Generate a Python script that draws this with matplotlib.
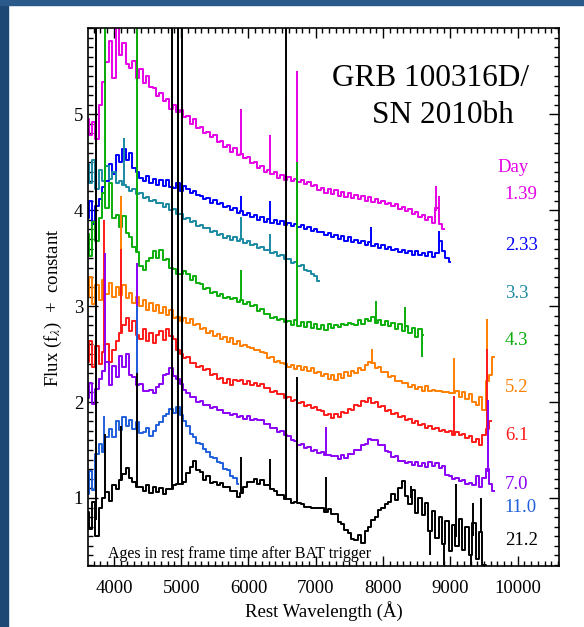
import matplotlib
matplotlib.use("Agg")
import matplotlib.pyplot as plt
import numpy as np
from matplotlib.ticker import MultipleLocator, FormatStrFormatter
from matplotlib.patches import Rectangle

# spectra of GRB 100316D / SN 2010bh, flux + constant, sampled every 50 A from 3600 A
wl_start = 3600
wl_step = 50

# day 1.39
flux_139 = [4.95, 4.78, 4.92, 4.74, 5.10, 5.34, 5.55, 5.76, 5.38, 5.92,
            5.62, 5.74, 5.52, 5.48, 5.56, 5.38, 5.47, 5.33, 5.40, 5.28,
            5.27, 5.19, 5.22, 5.14, 5.16, 5.06, 5.10, 5.02, 5.05, 4.97,
            4.98, 4.90, 4.95, 4.86, 4.87, 4.80, 4.82, 4.76, 4.78, 4.71,
            4.72, 4.66, 4.68, 4.61, 4.65, 4.58, 4.59, 4.54, 4.55, 4.49,
            4.50, 4.44, 4.46, 4.40, 4.42, 4.38, 4.40, 4.34, 4.37, 4.32,
            4.35, 4.30, 4.33, 4.29, 4.31, 4.27, 4.29, 4.25, 4.26, 4.21,
            4.23, 4.18, 4.22, 4.17, 4.21, 4.15, 4.19, 4.14, 4.18, 4.13,
            4.16, 4.12, 4.15, 4.10, 4.14, 4.09, 4.12, 4.07, 4.10, 4.06,
            4.07, 4.04, 4.06, 4.01, 4.03, 3.99, 4.01, 3.96, 3.98, 3.93,
            3.95, 3.90, 3.93, 3.87, 4.02, 3.86, 3.80]
spikes_139 = ([4340, 5890, 6320, 6560, 6716, 8790, 8830],
              [6.5, 5.06, 4.78, 5.20, 5.45, 4.25, 4.15])

# day 2.33
flux_233 = [3.92, 4.10, 3.86, 4.04, 4.12, 4.24, 4.30, 4.48, 4.38, 4.58,
            4.50, 4.64, 4.52, 4.60, 4.44, 4.40, 4.34, 4.30, 4.36, 4.28,
            4.33, 4.26, 4.32, 4.25, 4.31, 4.24, 4.23, 4.28, 4.20, 4.25,
            4.22, 4.18, 4.20, 4.16, 4.15, 4.12, 4.13, 4.08, 4.11, 4.06,
            4.07, 4.03, 4.04, 4.00, 4.02, 3.97, 3.99, 3.95, 3.97, 3.93,
            3.95, 3.90, 3.93, 3.88, 3.91, 3.87, 3.90, 3.86, 3.89, 3.85,
            3.87, 3.84, 3.86, 3.82, 3.85, 3.80, 3.83, 3.78, 3.80, 3.77,
            3.77, 3.74, 3.76, 3.72, 3.74, 3.70, 3.73, 3.68, 3.72, 3.67,
            3.69, 3.66, 3.68, 3.64, 3.67, 3.63, 3.65, 3.61, 3.64, 3.60,
            3.62, 3.58, 3.60, 3.56, 3.59, 3.55, 3.57, 3.53, 3.57, 3.53,
            3.55, 3.52, 3.56, 3.51, 3.55, 3.68, 3.57, 3.50, 3.46]
spikes_233 = ([4861, 5890, 6320, 6716, 7815, 8830],
              [4.95, 4.15, 4.10, 4.49, 3.83, 3.78])

# day 3.3
flux_33 = [4.48, 4.28, 4.52, 4.22, 4.42, 4.30, 4.46, 4.33, 4.40, 4.28,
           4.30, 4.26, 4.24, 4.20, 4.22, 4.17, 4.18, 4.13, 4.14, 4.10,
           4.11, 4.07, 4.08, 4.03, 4.06, 4.00, 4.01, 3.96, 3.96, 3.91,
           3.92, 3.88, 3.89, 3.84, 3.85, 3.81, 3.81, 3.77, 3.78, 3.74,
           3.75, 3.71, 3.73, 3.69, 3.72, 3.68, 3.70, 3.66, 3.68, 3.64,
           3.65, 3.61, 3.62, 3.58, 3.59, 3.55, 3.56, 3.52, 3.53, 3.49,
           3.49, 3.45, 3.46, 3.42, 3.43, 3.38, 3.37, 3.33, 3.31, 3.26]
spikes_33 = ([4150, 5890, 6320],
             [4.75, 3.93, 3.75])

# day 4.3
flux_43 = [3.75, 3.52, 3.88, 3.68, 3.92, 4.18, 4.02, 4.28, 3.92, 3.95,
           3.82, 3.94, 3.76, 3.72, 3.62, 3.56, 3.42, 3.38, 3.47, 3.50,
           3.57, 3.50, 3.58, 3.48, 3.49, 3.40, 3.39, 3.33, 3.34, 3.37,
           3.33, 3.27, 3.31, 3.24, 3.23, 3.18, 3.19, 3.14, 3.15, 3.11,
           3.13, 3.08, 3.10, 3.07, 3.08, 3.04, 3.06, 3.02, 3.04, 3.00,
           3.01, 2.95, 2.97, 2.92, 2.92, 2.88, 2.89, 2.85, 2.87, 2.83,
           2.84, 2.80, 2.85, 2.79, 2.83, 2.78, 2.83, 2.77, 2.81, 2.76,
           2.80, 2.75, 2.81, 2.77, 2.80, 2.78, 2.81, 2.80, 2.82, 2.81,
           2.80, 2.85, 2.81, 2.87, 2.84, 2.89, 2.82, 2.86, 2.80, 2.84,
           2.79, 2.82, 2.76, 2.81, 2.74, 2.79, 2.72, 2.77, 2.68, 2.76,
           2.70]
spikes_43 = ([3869, 4340, 4861, 4959, 5890, 6716, 7890, 8330, 8580],
             [6.5, 6.5, 6.5, 6.5, 3.38, 4.50, 3.05, 2.99, 2.47])

# day 5.2
flux_52 = [3.10, 3.30, 3.02, 3.22, 3.06, 3.27, 3.13, 3.24, 3.10, 3.20,
           3.12, 3.22, 3.08, 3.14, 3.03, 3.10, 3.00, 3.06, 2.96, 3.03,
           2.95, 3.01, 2.93, 2.99, 2.91, 2.96, 2.88, 2.89, 2.84, 2.88,
           2.82, 2.87, 2.80, 2.81, 2.76, 2.77, 2.72, 2.74, 2.69, 2.71,
           2.66, 2.68, 2.63, 2.67, 2.60, 2.64, 2.58, 2.59, 2.57, 2.56,
           2.54, 2.54, 2.52, 2.51, 2.46, 2.47, 2.42, 2.43, 2.41, 2.40,
           2.37, 2.39, 2.34, 2.38, 2.33, 2.37, 2.32, 2.35, 2.30, 2.31,
           2.27, 2.29, 2.24, 2.28, 2.23, 2.29, 2.25, 2.31, 2.27, 2.32,
           2.30, 2.35, 2.33, 2.39, 2.42, 2.41, 2.35, 2.36, 2.31, 2.31,
           2.26, 2.27, 2.22, 2.22, 2.20, 2.20, 2.16, 2.18, 2.14, 2.16,
           2.12, 2.17, 2.11, 2.13, 2.12, 2.11, 2.10, 2.10, 2.09, 2.09,
           2.11, 2.05, 2.10, 2.03, 2.08, 2.00, 1.97, 2.05, 1.92, 2.22,
           2.28, 2.47]
spikes_52 = ([4100, 7840, 9050, 9550],
             [4.15, 2.55, 2.46, 2.87])

# day 6.1
flux_61 = [2.42, 2.64, 2.36, 2.58, 2.40, 2.52, 2.60, 2.42, 2.54, 2.64,
           2.72, 2.80, 2.88, 2.74, 2.84, 2.70, 2.66, 2.76, 2.64, 2.72,
           2.62, 2.70, 2.74, 2.65, 2.76, 2.69, 2.66, 2.54, 2.50, 2.46,
           2.47, 2.41, 2.41, 2.36, 2.38, 2.33, 2.34, 2.28, 2.29, 2.24,
           2.25, 2.20, 2.24, 2.18, 2.23, 2.22, 2.23, 2.19, 2.22, 2.18,
           2.20, 2.17, 2.19, 2.15, 2.15, 2.10, 2.11, 2.08, 2.08, 2.04,
           2.05, 2.01, 2.02, 1.99, 2.00, 1.96, 1.97, 1.94, 1.95, 1.92,
           1.91, 1.86, 1.87, 1.83, 1.88, 1.84, 1.90, 1.89, 1.93, 1.92,
           1.97, 1.96, 2.01, 2.00, 2.04, 1.99, 2.00, 1.95, 1.96, 1.91,
           1.92, 1.87, 1.89, 1.84, 1.85, 1.81, 1.82, 1.78, 1.80, 1.76,
           1.77, 1.73, 1.75, 1.72, 1.73, 1.70, 1.71, 1.69, 1.70, 1.66,
           1.69, 1.66, 1.67, 1.62, 1.65, 1.58, 1.61, 1.55, 1.66, 1.72,
           1.80]
spikes_61 = ([3850, 4100, 9050, 9550],
             [3.90, 3.60, 2.06, 2.55])

# day 7.0
flux_70 = [2.04, 2.20, 1.98, 2.14, 2.24, 2.32, 2.42, 2.18, 2.38, 2.26,
           2.48, 2.36, 2.50, 2.28, 2.26, 2.18, 2.19, 2.12, 2.11, 2.13,
           2.09, 2.16, 2.19, 2.28, 2.29, 2.35, 2.27, 2.24, 2.19, 2.13,
           2.09, 2.05, 2.05, 2.00, 2.01, 1.97, 1.97, 1.94, 1.95, 1.92,
           1.92, 1.89, 1.89, 1.86, 1.87, 1.84, 1.85, 1.82, 1.85, 1.81,
           1.82, 1.81, 1.81, 1.77, 1.77, 1.73, 1.73, 1.69, 1.70, 1.66,
           1.65, 1.60, 1.59, 1.55, 1.56, 1.52, 1.53, 1.49, 1.50, 1.47,
           1.48, 1.45, 1.45, 1.44, 1.44, 1.41, 1.45, 1.42, 1.46, 1.46,
           1.50, 1.50, 1.55, 1.56, 1.61, 1.60, 1.60, 1.55, 1.55, 1.49,
           1.48, 1.43, 1.44, 1.39, 1.39, 1.36, 1.37, 1.34, 1.37, 1.33,
           1.36, 1.32, 1.37, 1.33, 1.36, 1.31, 1.33, 1.24, 1.23, 1.20,
           1.21, 1.18, 1.19, 1.15, 1.16, 1.13, 1.23, 1.11, 1.21, 1.30,
           1.14, 1.07]
spikes_70 = ([3869, 4340, 7150, 9560],
             [3.55, 3.45, 1.74, 2.02])

# day 11.0
flux_110 = [1.04, 1.28, 1.08, 1.46, 1.56, 1.48, 1.64, 1.72, 1.64, 1.80,
            1.71, 1.84, 1.75, 1.81, 1.72, 1.79, 1.68, 1.69, 1.73, 1.65,
            1.70, 1.76, 1.79, 1.85, 1.87, 1.93, 1.89, 1.95, 1.86, 1.80,
            1.75, 1.67, 1.63, 1.57, 1.56, 1.51, 1.48, 1.43, 1.42, 1.37,
            1.36, 1.30, 1.29, 1.23, 1.21, 1.15]
spikes_110 = ([3850, 4340, 4861, 5007],
              [1.85, 3.00, 5.20, 4.70])

# day 21.2
flux_212 = [0.85, 0.68, 0.96, 0.60, 0.89, 1.00, 1.06, 0.97, 1.13, 1.09,
            1.19, 1.25, 1.31, 1.21, 1.17, 1.11, 1.11, 1.07, 1.13, 1.05,
            1.11, 1.06, 1.10, 1.04, 1.09, 1.09, 1.13, 1.15, 1.15, 1.17,
            1.26, 1.32, 1.38, 1.29, 1.27, 1.19, 1.23, 1.16, 1.17, 1.13,
            1.16, 1.11, 1.11, 1.07, 1.07, 1.01, 1.05, 1.11, 1.17, 1.17,
            1.20, 1.15, 1.19, 1.13, 1.13, 1.09, 1.07, 1.03, 1.03, 0.99,
            0.99, 0.95, 0.96, 0.95, 0.94, 0.91, 0.91, 0.90, 0.90, 0.89,
            0.89, 0.85, 0.88, 0.83, 0.83, 0.75, 0.73, 0.67, 0.63, 0.57,
            0.56, 0.61, 0.53, 0.65, 0.70, 0.77, 0.80, 0.87, 0.90, 0.94,
            0.96, 1.04, 0.98, 1.10, 1.18, 1.02, 0.94, 1.08, 0.84, 1.00,
            0.82, 0.95, 0.66, 0.86, 0.58, 0.80, 0.52, 0.76, 0.45, 0.72,
            0.50, 0.78, 0.46, 0.70, 0.40, 0.74, 0.36, 0.64, 0.30, 0.20]
spikes_212 = ([3727, 3869, 4102, 4340, 4861, 4959, 5007, 5890, 6320,
               6563, 6716, 7150, 8420, 8700, 8900, 9080, 9300, 9330, 9450, 9500],
              [6.5, 1.67, 1.75, 2.30, 6.5, 6.5, 6.5, 1.43, 1.41,
               6.5, 2.26, 1.22, 1.12, 0.40, 0.30, 1.15, 0.20, 0.95, 1.00, 0.05])

day_labels = ['1.39', '2.33', '3.3', '4.3', '5.2', '6.1', '7.0', '11.0', '21.2']
series = [flux_139, flux_233, flux_33, flux_43, flux_52, flux_61, flux_70, flux_110, flux_212]
spikes = [spikes_139, spikes_233, spikes_33, spikes_43, spikes_52, spikes_61, spikes_70, spikes_110, spikes_212]
colors = ['#e600e6', '#0000ff', '#1b8aa3', '#0aae0a', '#ff7f00', '#ff1a1a', '#8a00f5', '#1f5fdc', '#000000']

# where the day labels sit (baseline, in flux units)
label_x = 9810
label_y = [4.115, 3.59, 3.08, 2.59, 2.10, 1.60, 1.09, 0.85, 0.51]

plt.rcParams['font.family'] = ['Liberation Serif', 'DejaVu Serif']
plt.rcParams['mathtext.fontset'] = 'stix'

fig = plt.figure(figsize=(5.84, 6.27), dpi=100)
fig.patch.set_facecolor('white')
# slide background bands
fig.patches.append(Rectangle((0, 0), 8 / 584, 1, transform=fig.transFigure,
                             color='#1d4876', zorder=0))
fig.patches.append(Rectangle((0, 1 - 5 / 627), 1, 5 / 627, transform=fig.transFigure,
                             color='#2a5a8a', zorder=0))

ax = fig.add_axes([88 / 584, 1 - 566 / 627, 471 / 584, 538 / 627])

for flux, sp, c in zip(series, spikes, colors):
    wl = wl_start + wl_step * np.arange(len(flux))
    ax.plot(wl, flux, color=c, lw=1.4, drawstyle='steps-mid')
    base = np.interp(sp[0], wl, flux)
    ax.vlines(sp[0], base, sp[1], color=c, lw=1.4)

ax.set_xlim(3615, 10615)
ax.set_ylim(0.29, 5.9)

ax.xaxis.set_major_locator(MultipleLocator(1000))
ax.xaxis.set_minor_locator(MultipleLocator(100))
ax.yaxis.set_major_locator(MultipleLocator(1))
ax.yaxis.set_minor_locator(MultipleLocator(0.1))
ax.yaxis.set_major_formatter(FormatStrFormatter('%d'))

ax.tick_params(which='both', direction='in', top=True, right=True, width=1.0)
ax.tick_params(which='major', length=7)
ax.tick_params(which='minor', length=3.5)
ax.tick_params(axis='x', pad=10, labelsize=13.5)
ax.tick_params(axis='y', pad=3.5, labelsize=13.5)
for s in ax.spines.values():
    s.set_linewidth(1.2)

ax.set_xlabel('Rest Wavelength (Å)', fontsize=13.5, labelpad=3)
ax.set_ylabel(r'Flux (f$_\lambda$)  +  constant', fontsize=13.5)
ax.yaxis.set_label_coords(-0.05, 0.48)

# title inside the plot
ax.text(7236, 5.29, 'GRB 100316D/', fontsize=22.5, color='black')
ax.text(7830, 4.906, 'SN 2010bh', fontsize=22.5, color='black')

ax.text(9700, 4.40, 'Day', fontsize=13.5, color=colors[0])
for lab, yy, c in zip(day_labels, label_y, colors):
    ax.text(label_x, yy, lab, fontsize=13.5, color=c)

ax.text(3905, 0.37, 'Ages in rest frame time after BAT trigger', fontsize=11.5, color='black')

plt.savefig('out.png', dpi=100, facecolor=fig.get_facecolor())
